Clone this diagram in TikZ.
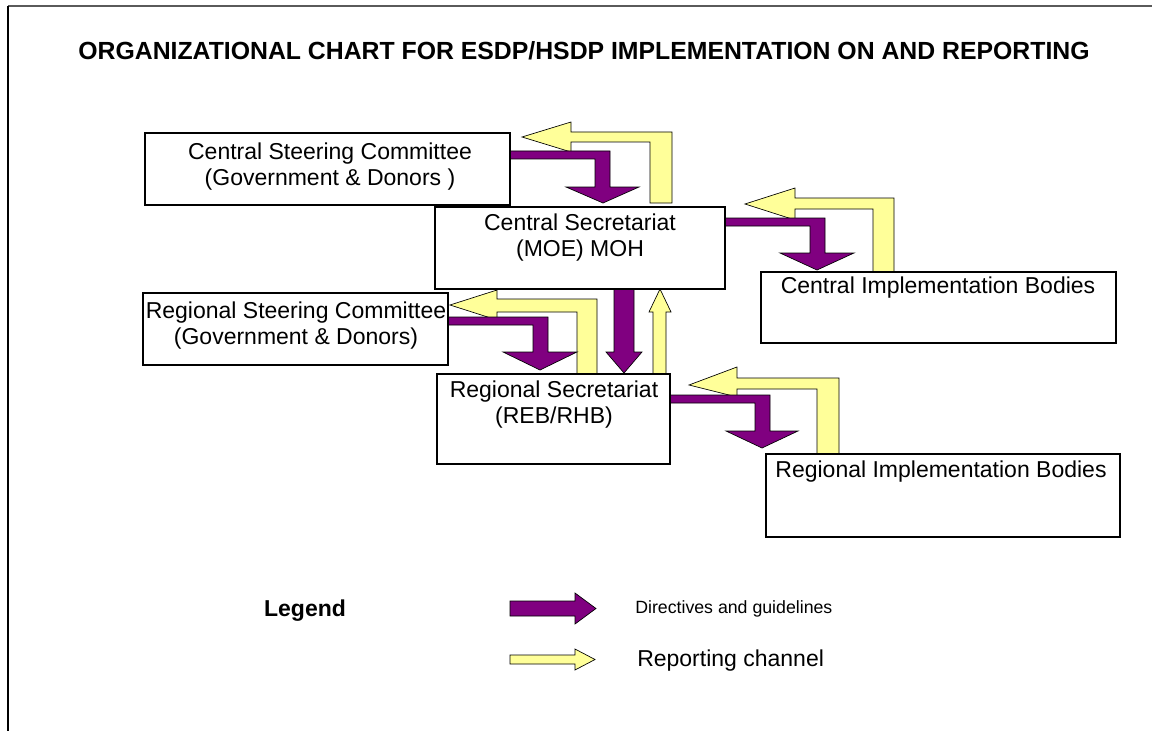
\documentclass[tikz,border=0pt]{standalone}
\usepackage{fontspec}
\setmainfont{Liberation Sans}
\usetikzlibrary{fit}
\definecolor{dirpurple}{HTML}{800080}
\definecolor{repyellow}{HTML}{FFFF99}
\definecolor{framegray}{HTML}{5A5A5A}
\begin{document}
\begin{tikzpicture}[x=0.75pt,y=-0.75pt,
  box/.style={draw=black, fill=white, line width=1.6pt, inner sep=0pt},
  txt/.style={inner sep=0pt, align=center, font=\fontsize{17.25}{19.5}\selectfont},
  dirarrow/.style={fill=dirpurple, draw=black, line width=0.5pt, line join=miter},
  reparrow/.style={fill=repyellow, draw=black, line width=0.5pt, line join=miter}]
\useasboundingbox (0,0) rectangle (1152,731);
% frame
\draw[framegray, line width=1.5pt] (8,6) -- (1152,6);
\draw[black, line width=1.5pt] (8,6) -- (8,731);
% title
\node[inner sep=0pt, font=\fontsize{18.6}{21}\selectfont\bfseries] (title) at (584,51)
  {ORGANIZATIONAL CHART FOR ESDP/HSDP IMPLEMENTATION ON AND REPORTING};

% ---- reporting arrows (yellow)
\draw[reparrow] (672,203) -- (672,132) -- (571,132) -- (571,122) -- (522,137) -- (571,152) -- (571,142) -- (650,142) -- (650,203) -- cycle;
\draw[reparrow] (894,272) -- (894,198) -- (795,198) -- (795,188) -- (745,204) -- (795,220) -- (795,209) -- (873,209) -- (873,272) -- cycle;
\draw[reparrow] (597,374) -- (597,299) -- (497,299) -- (497,290) -- (450,305) -- (497,320) -- (497,312) -- (577,312) -- (577,374) -- cycle;
\draw[reparrow] (839,454) -- (839,378) -- (737,378) -- (737,367) -- (689,385) -- (737,397) -- (737,389) -- (817,389) -- (817,454) -- cycle;
\draw[reparrow] (653,374) -- (653,312) -- (649,312) -- (660,289) -- (671,312) -- (666,312) -- (666,374) -- cycle;

% ---- directive arrows (purple)
\draw[dirarrow] (510,151) -- (610,151) -- (610,187) -- (639,187) -- (603,203) -- (566,187) -- (595,187) -- (595,159) -- (510,159) -- cycle;
\draw[dirarrow] (725,218) -- (825,218) -- (825,253) -- (854,253) -- (817,270) -- (780,253) -- (810,253) -- (810,226) -- (725,226) -- cycle;
\draw[dirarrow] (448,317) -- (548,317) -- (548,352) -- (577,352) -- (540,370) -- (503,352) -- (533,352) -- (533,325) -- (448,325) -- cycle;
\draw[dirarrow] (670,395) -- (770,395) -- (770,431) -- (798,431) -- (762,448) -- (726,431) -- (755,431) -- (755,403) -- (670,403) -- cycle;
\draw[dirarrow] (614,289) -- (634,289) -- (634,352) -- (642,352) -- (624,373) -- (606,352) -- (614,352) -- cycle;

% ---- boxes
\node[box, fit={(145,133) (510,205)}] (csc) {};
\node[box, fit={(435,207) (725,289)}] (cs) {};
\node[box, fit={(761,272) (1116,343)}] (cib) {};
\node[box, fit={(143,293) (448,365)}] (rsc) {};
\node[box, fit={(437,374) (670,464)}] (rs) {};
\node[box, fit={(766,454) (1120,537)}] (rib) {};

% ---- box texts
\node[txt] (csct) at (330,167) {Central Steering Committee\\(Government \& Donors )};
\node[txt] (cst) at (580,238) {Central Secretariat\\(MOE) MOH};
\node[txt] (cibt) at (938,288) {Central Implementation Bodies};
\node[txt] (rsct) at (296,326) {Regional Steering Committee\\(Government \& Donors)};
\node[txt] (rst) at (554,405) {Regional Secretariat\\(REB/RHB)};
\node[txt] (ribt) at (941,472) {Regional Implementation Bodies};

% ---- legend
\node[inner sep=0pt, font=\fontsize{17.25}{20}\selectfont\bfseries] (legend) at (305,611) {Legend};
\draw[dirarrow] (510,601) -- (575,601) -- (575,593) -- (596,608.5) -- (575,624) -- (575,616) -- (510,616) -- cycle;
\draw[reparrow] (510,655) -- (575,655) -- (575,649) -- (595,659.5) -- (575,670) -- (575,664) -- (510,664) -- cycle;
\node[inner sep=0pt, anchor=west, font=\fontsize{13.3}{15}\selectfont] (dirt) at (635,609) {Directives and guidelines};
\node[inner sep=0pt, anchor=west, font=\fontsize{17.25}{20}\selectfont] (rept) at (637,661) {Reporting channel};
\end{tikzpicture}
\end{document}
